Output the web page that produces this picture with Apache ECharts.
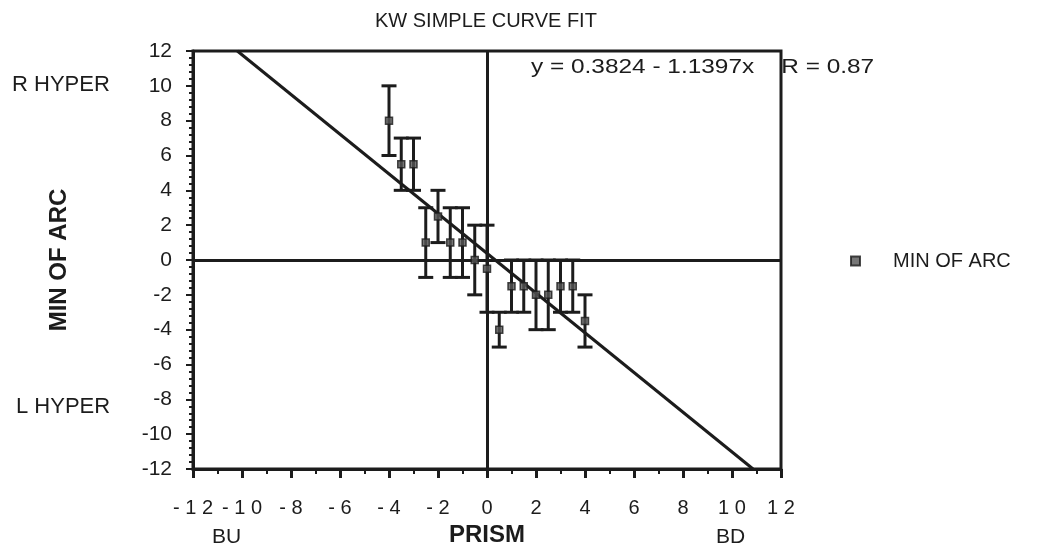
<!DOCTYPE html>
<html>
<head>
<meta charset="utf-8">
<script src="https://cdn.jsdelivr.net/npm/echarts@6/dist/echarts.min.js"></script>
<style>html,body{margin:0;padding:0;background:#fff;}#chart{width:1045px;height:560px;}</style>
</head>
<body>
<div id="chart"></div>
<script>
// ---- data ----
var prismX   = [-4, -3.5, -3, -2.5, -2, -1.5, -1, -0.5, 0, 0.5, 1, 1.5, 2, 2.5, 3, 3.5, 4];
var minArc   = [8, 5.5, 5.5, 1, 2.5, 1, 1, 0, -0.5, -4, -1.5, -1.5, -2, -2, -1.5, -1.5, -3.5];
var errorSize= [2, 1.5, 1.5, 2, 1.5, 2, 2, 2, 2.5, 1, 1.5, 1.5, 2, 2, 1.5, 1.5, 1.5];
// regression line y = 0.3824 - 1.1397x, endpoints where it meets the frame
var fitLine  = [[-10.19, 12], [10.86, -12]];
var xTicks   = [-12, 12, 2];
var yTicks   = [-12, 12, 2];
var titleText = 'KW SIMPLE CURVE FIT';
var equationText = 'y = 0.3824 - 1.1397x    R = 0.87';
var seriesName = 'MIN OF ARC';

var INK = '#1c1c1c';
var FONT = '"Liberation Sans", Arial, Helvetica, sans-serif';

var points = prismX.map(function (x, i) { return [x, minArc[i]]; });
var bars = prismX.map(function (x, i) { return [x, minArc[i] - errorSize[i], minArc[i] + errorSize[i]]; });

var chart = echarts.init(document.getElementById('chart'), null, {renderer: 'canvas'});
chart.setOption({
  animation: false,
  backgroundColor: '#fff',
  textStyle: {fontFamily: FONT, color: INK},
  title: {
    text: titleText, left: 375, top: 11, padding: 0,
    textStyle: {fontFamily: FONT, fontSize: 20, fontWeight: 'normal', color: INK}
  },
  grid: {left: 193, right: 264, top: 51, bottom: 91, show: true, borderColor: INK, borderWidth: 3},
  legend: {
    data: [{name: seriesName, icon: 'rect'}],
    left: 845, top: 246, itemWidth: 9, itemHeight: 9,
    textStyle: {fontFamily: FONT, fontSize: 20, color: INK, padding: [0, 0, 0, 28]}
  },
  xAxis: {
    type: 'value', min: xTicks[0], max: xTicks[1], interval: xTicks[2],
    name: 'PRISM', nameLocation: 'middle', nameGap: 54,
    nameTextStyle: {fontFamily: FONT, fontSize: 24, fontWeight: 'bold', color: INK},
    axisLine: {show: true, onZero: false, lineStyle: {color: INK, width: 3}},
    axisTick: {show: true, length: 9, lineStyle: {color: INK, width: 3}},
    minorTick: {show: true, splitNumber: 2, length: 5, lineStyle: {color: INK, width: 2}},
    splitLine: {show: false},
    axisLabel: {
      margin: 29, fontSize: 20, fontFamily: FONT, color: INK,
      formatter: function (v) { return String(v).split('').join(' '); }
    }
  },
  yAxis: {
    type: 'value', min: yTicks[0], max: yTicks[1], interval: yTicks[2],
    name: 'MIN OF ARC', nameLocation: 'middle', nameGap: 122,
    nameTextStyle: {fontFamily: FONT, fontSize: 24, fontWeight: 'bold', color: INK},
    axisLine: {show: true, onZero: false, lineStyle: {color: INK, width: 3}},
    axisTick: {show: true, length: 7, lineStyle: {color: INK, width: 2}},
    minorTick: {show: true, splitNumber: 5, length: 4, lineStyle: {color: INK, width: 2}},
    splitLine: {show: false},
    axisLabel: {margin: 21, fontSize: 21, fontFamily: FONT, color: INK}
  },
  series: [
    {
      type: 'line', name: 'fit', data: fitLine, showSymbol: false, symbol: 'none',
      lineStyle: {color: INK, width: 3}, silent: true, z: 3,
      markLine: {
        silent: true, symbol: 'none', label: {show: false},
        lineStyle: {color: INK, width: 3, type: 'solid'},
        data: [{xAxis: 0}, {yAxis: 0}]
      }
    },
    {
      type: 'custom', name: 'err', data: bars, z: 4,
      renderItem: function (params, api) {
        var x = api.value(0), lo = api.value(1), hi = api.value(2);
        var pH = api.coord([x, hi]), pL = api.coord([x, lo]);
        var hw = 7.5;
        var st = {stroke: INK, lineWidth: 3};
        return {type: 'group', children: [
          {type: 'line', shape: {x1: pH[0], y1: pH[1], x2: pL[0], y2: pL[1]}, style: st},
          {type: 'line', shape: {x1: pH[0] - hw, y1: pH[1], x2: pH[0] + hw, y2: pH[1]}, style: st},
          {type: 'line', shape: {x1: pL[0] - hw, y1: pL[1], x2: pL[0] + hw, y2: pL[1]}, style: st}
        ]};
      }
    },
    {
      type: 'scatter', name: seriesName, data: points, symbol: 'rect', symbolSize: 7, z: 5,
      itemStyle: {color: '#555', borderColor: INK, borderWidth: 1.5}
    }
  ],
  graphic: [
    {type: 'text', x: 531, y: 57, scaleX: 1.22, style: {text: equationText, x: 0, y: 0, font: '20px ' + FONT, fill: INK}},
    {type: 'text', left: 12, top: 74, style: {text: 'R HYPER', font: '22px ' + FONT, fill: INK}},
    {type: 'text', left: 16, top: 396, style: {text: 'L HYPER', font: '22px ' + FONT, fill: INK}},
    {type: 'text', left: 212, top: 527, style: {text: 'BU', font: '21px ' + FONT, fill: INK}},
    {type: 'text', left: 716, top: 527, style: {text: 'BD', font: '21px ' + FONT, fill: INK}}
  ]
});
</script>
</body>
</html>
